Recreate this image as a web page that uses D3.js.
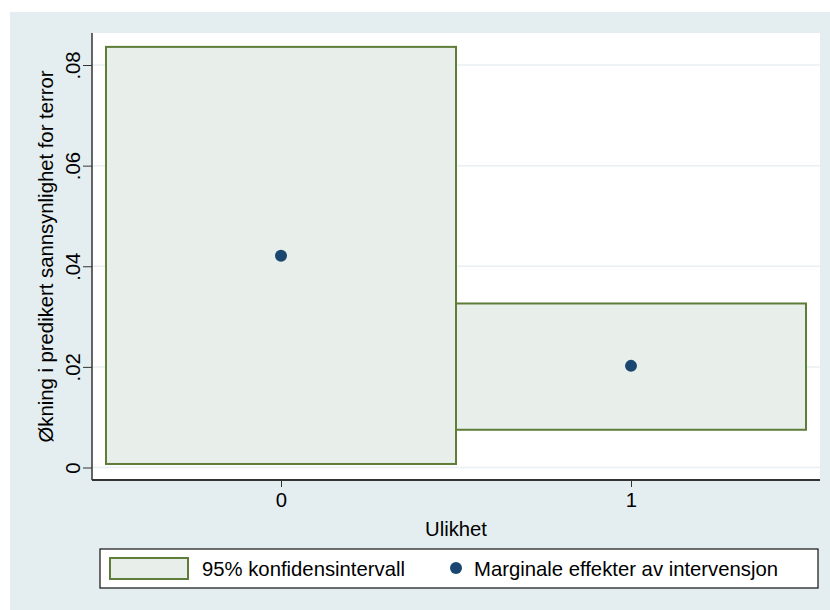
<!DOCTYPE html>
<html lang="no">
<head>
<meta charset="utf-8">
<title>Marginale effekter</title>
<script src="https://cdn.jsdelivr.net/npm/d3@7"></script>
<style>
  body { margin: 0; background: #fff; }
  svg text { font-family: "Liberation Sans", Arial, Helvetica, sans-serif; font-size: 20.3px; fill: #000; }
</style>
</head>
<body>
<div id="chart"></div>
<script>
// data
var categories = [0, 1];
var estimate   = [0.0421, 0.0202];
var ciLow      = [0.0007, 0.0075];
var ciHigh     = [0.0836, 0.0326];
var yTicks     = [0, 0.02, 0.04, 0.06, 0.08];
var yTickLabels = ["0", ".02", ".04", ".06", ".08"];
var xTickLabels = ["0", "1"];

var W = 830, H = 610;
var plot = {left: 92, right: 820, top: 33, bottom: 480};

var svg = d3.select("#chart").append("svg")
    .attr("width", W).attr("height", H);

// graph region
svg.append("rect").attr("x", 10).attr("y", 12)
   .attr("width", W - 10).attr("height", H - 12)
   .attr("fill", "#e4eef0");

// plot region
svg.append("rect").attr("x", plot.left).attr("y", plot.top)
   .attr("width", plot.right - plot.left).attr("height", plot.bottom - plot.top)
   .attr("fill", "#fff");

var x = d3.scaleLinear().domain([0, 1]).range([281, 631]);
var y = d3.scaleLinear().domain([0, 0.08]).range([467.5, 65]);

// gridlines
svg.append("g").selectAll("line")
   .data(yTicks).enter().append("line")
   .attr("x1", plot.left).attr("x2", plot.right)
   .attr("y1", function(d) { return y(d); })
   .attr("y2", function(d) { return y(d); })
   .attr("stroke", "#e8f0f2").attr("stroke-width", 1.5);

// confidence interval boxes (width of one category unit)
var half = 0.5;
svg.append("g").selectAll("rect")
   .data(categories).enter().append("rect")
   .attr("x", function(d) { return x(d - half); })
   .attr("width", function(d) { return x(d + half) - x(d - half); })
   .attr("y", function(d, i) { return y(ciHigh[i]); })
   .attr("height", function(d, i) { return y(ciLow[i]) - y(ciHigh[i]); })
   .attr("fill", "#e8eeea")
   .attr("stroke", "#5e7d38").attr("stroke-width", 2);

// point estimates
svg.append("g").selectAll("circle")
   .data(categories).enter().append("circle")
   .attr("cx", function(d) { return x(d); })
   .attr("cy", function(d, i) { return y(estimate[i]); })
   .attr("r", 6)
   .attr("fill", "#1a476f");

// y axis
var yAxis = d3.axisLeft(y).tickValues(yTicks).tickSize(9).tickPadding(3)
    .tickFormat(function(d, i) { return yTickLabels[i]; });
var gy = svg.append("g").attr("transform", "translate(" + plot.left + ",0)").call(yAxis);
gy.select(".domain").remove();
gy.selectAll(".tick line").attr("stroke", "#333");
gy.selectAll(".tick text")
  .attr("font-size", null)
  .attr("x", null).attr("dy", null)
  .attr("text-anchor", "middle")
  .attr("transform", "translate(-12,0) rotate(-90)");
svg.append("line")
   .attr("x1", plot.left).attr("x2", plot.left)
   .attr("y1", plot.top).attr("y2", plot.bottom)
   .attr("stroke", "#333").attr("stroke-width", 1.5);

// x axis
var xAxis = d3.axisBottom(x).tickValues(categories).tickSize(7).tickPadding(6)
    .tickFormat(function(d, i) { return xTickLabels[i]; });
var gx = svg.append("g").attr("transform", "translate(0," + plot.bottom + ")").call(xAxis);
gx.select(".domain").remove();
gx.selectAll(".tick line").attr("stroke", "#333");
gx.selectAll(".tick text").attr("font-size", null);
svg.append("line")
   .attr("x1", plot.left).attr("x2", plot.right)
   .attr("y1", plot.bottom).attr("y2", plot.bottom)
   .attr("stroke", "#333").attr("stroke-width", 2);

// axis titles
svg.append("text")
   .attr("x", (plot.left + plot.right) / 2).attr("y", 536)
   .attr("text-anchor", "middle")
   .text("Ulikhet");
svg.append("text")
   .attr("transform", "translate(53," + ((plot.top + plot.bottom) / 2) + ") rotate(-90)")
   .attr("text-anchor", "middle")
   .text("Økning i predikert sannsynlighet for terror");

// legend
var legend = svg.append("g");
legend.append("rect").attr("x", 100).attr("y", 549)
      .attr("width", 718).attr("height", 39)
      .attr("fill", "#fff").attr("stroke", "#111").attr("stroke-width", 1.2);
legend.append("rect").attr("x", 110).attr("y", 558)
      .attr("width", 78).attr("height", 21)
      .attr("fill", "#e8eeea").attr("stroke", "#5e7d38").attr("stroke-width", 2);
legend.append("text").attr("x", 202).attr("y", 576)
      .text("95% konfidensintervall");
legend.append("circle").attr("cx", 456).attr("cy", 568).attr("r", 6)
      .attr("fill", "#1a476f");
legend.append("text").attr("x", 474).attr("y", 576)
      .text("Marginale effekter av intervensjon");
</script>
</body>
</html>
